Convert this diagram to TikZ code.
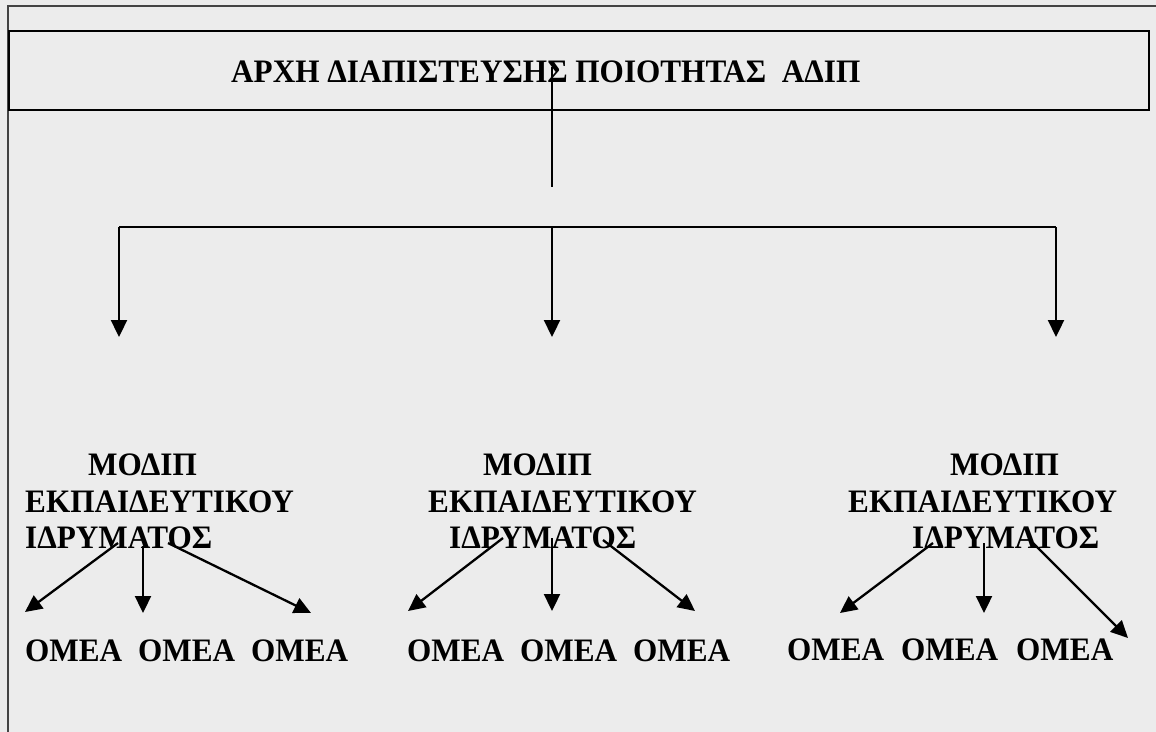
\documentclass[tikz,border=0pt]{standalone}
\usepackage{fontspec}
\setmainfont{Liberation Serif}
\usetikzlibrary{arrows.meta}
\definecolor{bg}{HTML}{ECECEC}
\definecolor{frame}{HTML}{444444}
\tikzset{
  txt/.style={inner sep=0pt, anchor=base west, yscale=1.05, font=\bfseries\fontsize{31.2}{36}\selectfont},
  conn/.style={line width=2.3pt, black},
  arr/.style={conn, -{Triangle[length=17pt,width=16pt]}},
}
\begin{document}
\begin{tikzpicture}[x=1pt,y=-1pt]
\useasboundingbox (0,0) rectangle (1156,731);
\fill[bg] (-6,-6) rectangle (1162,737);
% outer frame (top and left only)
\draw[frame, line width=2pt] (8,740) -- (8,6) -- (1165,6);
% title box
\node[draw=black, line width=2.3pt, fill=none, minimum width=1140pt, minimum height=79pt, anchor=north west, inner sep=0pt] (titlebox) at (8,30) {};
\node[txt] (title) at (231,82) {ΑΡΧΗ ΔΙΑΠΙΣΤΕΥΣΗΣ ΠΟΙΟΤΗΤΑΣ\ \ ΑΔΙΠ};
\coordinate (tstart) at (552,67);
\coordinate (tend) at (552,187);
\draw[conn] (tstart) -- (tend);
% bus
\coordinate (bl) at (119,227);
\coordinate (bm) at (552,227);
\coordinate (br) at (1056,227);
\coordinate (al) at (119,337);
\coordinate (am) at (552,337);
\coordinate (ar) at (1056,337);
\draw[conn] (bl) -- (br);
\draw[arr] (bl) -- (al);
\draw[arr] (bm) -- (am);
\draw[arr] (br) -- (ar);
% group 1
\node[txt] (m1) at (88,475) {ΜΟΔΙΠ};
\node[txt] (e1) at (25,512) {ΕΚΠΑΙΔΕΥΤΙΚΟΥ};
\node[txt] (i1) at (25,548) {ΙΔΡΥΜΑΤΟΣ};
\node[txt] (o11) at (25,661) {ΟΜΕΑ};
\node[txt] (o12) at (138,661) {ΟΜΕΑ};
\node[txt] (o13) at (251,661) {ΟΜΕΑ};
\coordinate (s11) at (118,543); \coordinate (t11) at (25,612);
\coordinate (s12) at (143,546); \coordinate (t12) at (143,613);
\coordinate (s13) at (168,543); \coordinate (t13) at (311,613);
\draw[arr] (s11) -- (t11);
\draw[arr] (s12) -- (t12);
\draw[arr] (s13) -- (t13);
% group 2
\node[txt] (m2) at (483,475) {ΜΟΔΙΠ};
\node[txt] (e2) at (428,512) {ΕΚΠΑΙΔΕΥΤΙΚΟΥ};
\node[txt] (i2) at (449,548) {ΙΔΡΥΜΑΤΟΣ};
\node[txt] (o21) at (407,661) {ΟΜΕΑ};
\node[txt] (o22) at (520,661) {ΟΜΕΑ};
\node[txt] (o23) at (633,661) {ΟΜΕΑ};
\coordinate (s21) at (503,538); \coordinate (t21) at (408,611);
\coordinate (s22) at (552,538); \coordinate (t22) at (552,611);
\coordinate (s23) at (603,540); \coordinate (t23) at (695,611);
\draw[arr] (s21) -- (t21);
\draw[arr] (s22) -- (t22);
\draw[arr] (s23) -- (t23);
% group 3
\node[txt] (m3) at (950,475) {ΜΟΔΙΠ};
\node[txt] (e3) at (848,512) {ΕΚΠΑΙΔΕΥΤΙΚΟΥ};
\node[txt] (i3) at (912,548) {ΙΔΡΥΜΑΤΟΣ};
\node[txt] (o31) at (787,660) {ΟΜΕΑ};
\node[txt] (o32) at (901,660) {ΟΜΕΑ};
\node[txt] (o33) at (1016,660) {ΟΜΕΑ};
\coordinate (s31) at (933,543); \coordinate (t31) at (840,613);
\coordinate (s32) at (984,543); \coordinate (t32) at (984,613);
\coordinate (s33) at (1033,543); \coordinate (t33) at (1128,638);
\draw[arr] (s31) -- (t31);
\draw[arr] (s32) -- (t32);
\draw[arr] (s33) -- (t33);
\end{tikzpicture}
\end{document}
